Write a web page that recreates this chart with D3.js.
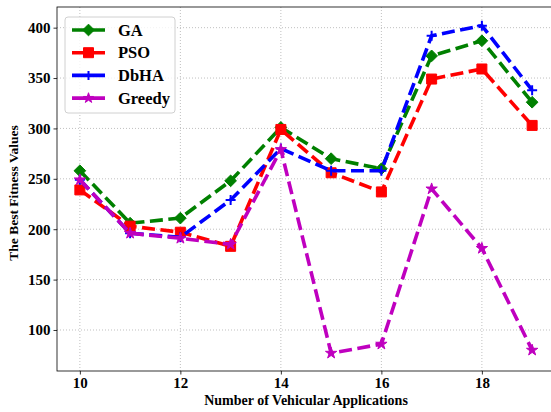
<!DOCTYPE html>
<html><head><meta charset="utf-8">
<script src="https://cdn.jsdelivr.net/npm/d3@7"></script>
<style>body{margin:0;background:#fff}svg{display:block;overflow:hidden}</style>
</head><body><svg id="c" width="551" height="412"></svg>
<script>
const xValues = [10, 11, 12, 13, 14, 15, 16, 17, 18, 19];
const GA     = [258, 206, 211, 248, 301, 270, 260, 372, 387, 326];
const PSO    = [239, 203, 197, 183, 299, 256, 237, 349, 359, 303];
const DbHA   = [249, 196, 192, 229, 280, 258, 258, 392, 402, 338];
const Greedy = [249, 196, 191, 185, 279, 77, 86, 240, 181, 80];
const xTicks = [10, 12, 14, 16, 18];
const yTicks = [100, 150, 200, 250, 300, 350, 400];
const seriesNames = ["GA", "PSO", "DbHA", "Greedy"];

const series = [
  {name: seriesNames[0], values: GA, color: "#008000", marker: "diamond"},
  {name: seriesNames[1], values: PSO, color: "#ff0000", marker: "square"},
  {name: seriesNames[2], values: DbHA, color: "#0000ff", marker: "plus"},
  {name: seriesNames[3], values: Greedy, color: "#bf00bf", marker: "star"}
];

const L = 57, R = 555, T = 7, B = 371;
const x = d3.scaleLinear().domain([9.545, 19.455]).range([L, R]);
const y = d3.scaleLinear().domain([59.3, 420.5]).range([B, T]);
const svg = d3.select("#c");
const font = "'Liberation Serif','Times New Roman',serif";

// grid
const g = svg.append("g");
g.selectAll(".gx").data(xTicks).join("line")
  .attr("x1", d => x(d)).attr("x2", d => x(d)).attr("y1", T).attr("y2", B)
  .attr("stroke", "#b0b0b0").attr("stroke-width", 0.8).attr("stroke-dasharray", "1,2");
g.selectAll(".gy").data(yTicks).join("line")
  .attr("x1", L).attr("x2", R).attr("y1", d => y(d)).attr("y2", d => y(d))
  .attr("stroke", "#b0b0b0").attr("stroke-width", 0.8).attr("stroke-dasharray", "1,2");

// axes
const xAxis = svg.append("g").attr("transform", `translate(0,${B})`)
  .call(d3.axisBottom(x).tickValues(xTicks).tickSize(3.5).tickPadding(2.5).tickSizeOuter(0));
const yAxis = svg.append("g").attr("transform", `translate(${L},0)`)
  .call(d3.axisLeft(y).tickValues(yTicks).tickSize(3.5).tickPadding(3).tickSizeOuter(0));
[xAxis, yAxis].forEach(a => {
  a.select(".domain").remove();
  a.selectAll("line").attr("stroke", "#000").attr("stroke-width", 0.8);
  a.selectAll("text").attr("font-family", font).attr("font-weight", "bold")
    .attr("font-size", 15).attr("fill", "#000");
});
// spines
svg.append("rect").attr("x", L).attr("y", T).attr("width", R - L).attr("height", B - T)
  .attr("fill", "none").attr("stroke", "#000").attr("stroke-width", 0.8);

// lines
const line = d3.line().x((d, i) => x(xValues[i])).y(d => y(d));
function markerPath(type, s) {
  const h = s / 2;
  if (type === "diamond") return `M0,${-h*1.3}L${h*1.3},0L0,${h*1.3}L${-h*1.3},0Z`;
  if (type === "square") return `M${-h},${-h}H${h}V${h}H${-h}Z`;
  if (type === "plus") return `M${-h},0H${h}M0,${-h}V${h}`;
  if (type === "star") return d3.symbol(d3.symbolStar, s * s * 0.4)();
}
function drawMarker(sel, s, type, color) {
  sel.attr("d", markerPath(type, s))
    .attr("fill", type === "plus" ? "none" : color)
    .attr("stroke", color)
    .attr("stroke-width", type === "plus" ? 2 : 1);
}
series.forEach(s => {
  svg.append("path").datum(s.values).attr("d", line)
    .attr("fill", "none").attr("stroke", s.color).attr("stroke-width", 3.6)
    .attr("stroke-dasharray", "13,5.5");
  const size = s.marker === "diamond" ? 9 : s.marker === "square" ? 10 : s.marker === "plus" ? 10 : 10;
  svg.selectAll(null).data(s.values).join("path")
    .attr("transform", (d, i) => `translate(${x(xValues[i])},${y(d)})`)
    .call(sel => drawMarker(sel, size, s.marker, s.color));
});

// legend
const lg = svg.append("g");
lg.append("rect").attr("x", 65).attr("y", 17).attr("width", 110).attr("height", 96)
  .attr("rx", 3).attr("fill", "#fff").attr("fill-opacity", 0.8)
  .attr("stroke", "#d0d0d0").attr("stroke-width", 1);
series.forEach((s, i) => {
  const yy = 30 + i * 22.7;
  lg.append("line").attr("x1", 72).attr("x2", 105).attr("y1", yy).attr("y2", yy)
    .attr("stroke", s.color).attr("stroke-width", 3.6);
  const size = s.marker === "diamond" ? 9 : s.marker === "square" ? 10 : s.marker === "plus" ? 9 : 9;
  lg.append("path").attr("transform", `translate(88.5,${yy})`)
    .call(sel => drawMarker(sel, size, s.marker, s.color));
  lg.append("text").attr("x", 118).attr("y", yy + 5.5).text(s.name)
    .attr("font-family", font).attr("font-weight", "bold").attr("font-size", 16.5).attr("fill", "#000");
});

// axis labels
svg.append("text").attr("x", 306).attr("y", 405).attr("text-anchor", "middle")
  .attr("font-family", font).attr("font-weight", "bold").attr("font-size", 14)
  .text("Number of Vehicular Applications");
svg.append("text").attr("transform", "translate(18,193) rotate(-90)").attr("text-anchor", "middle")
  .attr("font-family", font).attr("font-weight", "bold").attr("font-size", 13.5)
  .text("The Best Fitness Values");
</script></body></html>
